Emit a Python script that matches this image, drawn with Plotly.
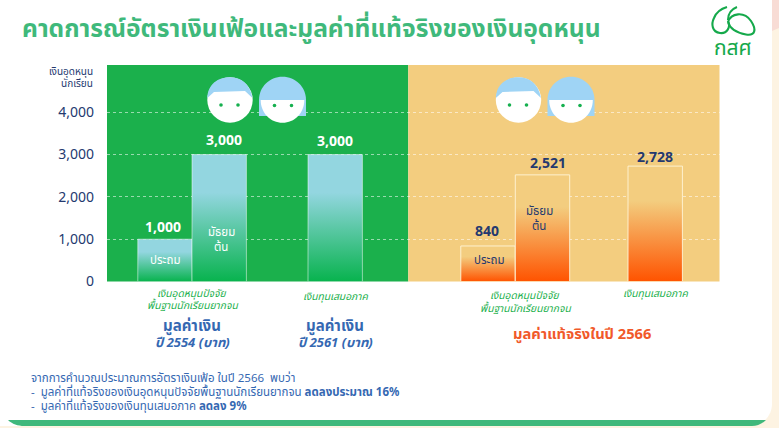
import plotly.graph_objects as go

W, H = 779, 428

# --- data ---
bar_names = ["ประถม 2554", "มัธยมต้น 2554", "เสมอภาค 2561", "ประถม 2566", "มัธยมต้น 2566", "เสมอภาค 2566"]
bar_values = [1000, 3000, 3000, 840, 2521, 2728]
bar_centers = [165, 219.2, 335.2, 488, 542.5, 655.2]
y_ticks = [0, 1000, 2000, 3000, 4000]
y_tick_labels = ["0", "1,000", "2,000", "3,000", "4,000"]

# --- style ---
FONT = "Noto Sans, Noto Sans Thai, Loma, Garuda, sans-serif"
NAVY = "#24396f"
BLUE = "#3568b2"
GREEN_TXT = "#1bb04c"
TITLE_GREEN = "#3fb97b"
PANEL_G = "#1bb04c"
PANEL_O = "#f3cd7f"
BAR_W = 54.4
value_colors = ["white", "white", "white", NAVY, NAVY, NAVY]
label_dx = [-2.3, 4.8, 0, -1.3, 5.5, 0]
label_dy = [12.5, 15.5, 14.5, 15, 12, 10]
outline_colors = ["rgba(255,255,255,0.5)"] * 3 + ["rgba(255,245,215,0.9)"] * 3


def px(x):
    return x / W


def py(y):
    return 1 - y / H


def path(points, close=True):
    s = "M" + " L".join(f"{px(a):.5f},{py(b):.5f}" for a, b in points)
    return s + (" Z" if close else "")


def curve(start, *segs):
    s = f"M{px(start[0]):.5f},{py(start[1]):.5f}"
    for c in segs:
        s += " C" + " ".join(f"{px(a):.5f},{py(b):.5f}" for a, b in c)
    return s


def rect(x0, y0, x1, y1, color):
    return dict(type="rect", xref="paper", yref="paper", x0=px(x0), x1=px(x1),
                y0=py(y1), y1=py(y0), fillcolor=color, line_width=0, layer="below")


def pshape(d, fill, layer="above", line=None, lw=0):
    out = dict(type="path", xref="paper", yref="paper", path=d, layer=layer,
               fillcolor=fill, line=dict(width=lw, color=line or "rgba(0,0,0,0)"))
    return out


def circle(cx, cy, r, fill, layer="above"):
    return dict(type="circle", xref="paper", yref="paper", x0=px(cx - r), x1=px(cx + r),
                y0=py(cy + r), y1=py(cy - r), fillcolor=fill, line_width=0, layer=layer)


def rounded(x0, y0, x1, y1, r):
    k = 0.45 * r
    return (curve((x0 + r, y0), ((x1 - r, y0), (x1 - r, y0), (x1 - r, y0)),
                  ((x1 - k, y0), (x1, y0 + k), (x1, y0 + r)),
                  ((x1, y1 - r), (x1, y1 - r), (x1, y1 - r)),
                  ((x1, y1 - k), (x1 - k, y1), (x1 - r, y1)),
                  ((x0 + r, y1), (x0 + r, y1), (x0 + r, y1)),
                  ((x0 + k, y1), (x0, y1 - k), (x0, y1 - r)),
                  ((x0, y0 + r), (x0, y0 + r), (x0, y0 + r)),
                  ((x0, y0 + k), (x0 + k, y0), (x0 + r, y0))) + " Z")


def faces(dx):
    K = 22.7
    c1 = (230 + dx, 100)
    c2 = (282.5 + dx, 100.3)
    hair_color = "#9fd4f5"
    out = [circle(c1[0], c1[1], K, "white")]
    out.append(pshape(
        curve((c1[0] - 22.7, 98), ((c1[0] - 22, 84), (c1[0] - 12, 77.3), (c1[0], 77.3)),
              ((c1[0] + 11, 77.3), (c1[0] + 20, 84), (c1[0] + 22.5, 98))) +
        f" L{px(c1[0] + 15):.5f},{py(91):.5f} L{px(c1[0] - 16):.5f},{py(92):.5f} Z", hair_color))
    R = 23.5
    out.append(pshape(
        curve((c2[0] - R, 116), ((c2[0] - R, 116), (c2[0] - R, 100), (c2[0] - R, 100)),
              ((c2[0] - R, 87), (c2[0] - 13, 76.8), (c2[0], 76.8)),
              ((c2[0] + 13, 76.8), (c2[0] + R, 87), (c2[0] + R, 100)),
              ((c2[0] + R, 116), (c2[0] + R, 116), (c2[0] + R, 116))) + " Z", hair_color))
    r = 21.8
    out.append(pshape(
        curve((c2[0] - r, 100), ((c2[0] - r, 113), (c2[0] - 12, 122.8), (c2[0], 122.8)),
              ((c2[0] + 12, 122.8), (c2[0] + r, 113), (c2[0] + r, 100))) + " Z", "white"))
    for ex, ey in [(221 + dx, 105), (238 + dx, 105), (274.5 + dx, 105.5), (291.5 + dx, 105.5)]:
        out.append(circle(ex, ey, 1.8, "#16b04f"))
    return out


shapes = [
    rect(0, 0, W, H, "#fdf3e2"),
    pshape(path([(755, 0), (W, 0), (W, 28), (772, 31)]), "#f8dcd5", "below"),
    pshape(path([(0, 0), (16, 0), (0, 22)]), "#f8dcd5", "below"),
    pshape(rounded(-22, -22, 772, 426, 22), "white", "below"),
    pshape(curve((8, 420), ((8, 420), (760, 420), (766, 420)),
                 ((762, 424), (757, 426), (752, 426)),
                 ((752, 426), (24, 426), (24, 426)),
                 ((18, 426), (12, 424), (8, 420))) + " Z", "#40b87b", "below"),
    rect(107, 65, 408.3, 281.5, PANEL_G),
    rect(408.3, 65, 719.5, 281.5, PANEL_O),
]
shapes += faces(0) + faces(288.5)

LG = "#15a94b"
logo = [
    curve((727, 7), ((720, 9), (716, 13), (714, 18)), ((711, 24), (712, 32), (720, 33)),
          ((727, 34), (731, 27), (728, 21))),
    curve((728, 22), ((731, 13), (744, 11), (751, 21)), ((757, 30), (755, 36), (746, 34.5)),
          ((738, 33), (730, 29), (728, 22))),
    curve((728, 20), ((728, 13), (732, 9), (737, 7))),
]
for d in logo:
    shapes.append(dict(type="path", xref="paper", yref="paper", path=d, layer="above",
                       line=dict(color=LG, width=2.1), fillcolor="rgba(0,0,0,0)"))


def note(x, y, text, size, color, anchor="center", bold=False, italic=False):
    t = f"<b>{text}</b>" if bold else text
    t = f"<i>{t}</i>" if italic else t
    return dict(x=px(x), y=py(y), xref="paper", yref="paper", text=t, showarrow=False,
                xanchor=anchor, yanchor="middle", align=anchor if anchor != "center" else "center",
                font=dict(family=FONT, size=size, color=color))


annotations = [
    note(20, 27.5, "คาดการณ์อัตราเงินเฟ้อและมูลค่าที่แท้จริงของเงินอุดหนุน", 24.6, TITLE_GREEN, "left", True),
    note(733, 47, "กสศ", 21, LG),
    note(95, 71, "เงินอุดหนุน", 10, NAVY, "right"),
    note(95, 83, "นักเรียน", 10, NAVY, "right"),
    note(165, 259, "ประถม", 11.5, "white"),
    note(221, 231, "มัธยม", 11.5, "white"),
    note(221, 246, "ต้น", 11.5, "white"),
    note(489, 259, "ประถม", 11.5, NAVY),
    note(539, 210, "มัธยม", 11.5, NAVY),
    note(539, 225, "ต้น", 11.5, NAVY),
    note(192, 292.5, "เงินอุดหนุนปัจจัย", 10.3, GREEN_TXT, italic=True),
    note(192, 305, "พื้นฐานนักเรียนยากจน", 10.3, GREEN_TXT, italic=True),
    note(335, 296, "เงินทุนเสมอภาค", 10.3, GREEN_TXT, italic=True),
    note(525, 295, "เงินอุดหนุนปัจจัย", 10.3, GREEN_TXT, italic=True),
    note(525, 307.5, "พื้นฐานนักเรียนยากจน", 10.3, GREEN_TXT, italic=True),
    note(655, 293, "เงินทุนเสมอภาค", 10.3, GREEN_TXT, italic=True),
    note(192, 325, "มูลค่าเงิน", 15, BLUE, bold=True),
    note(192, 342, "ปี 2554 (บาท)", 13, BLUE, bold=True, italic=True),
    note(335, 325, "มูลค่าเงิน", 15, BLUE, bold=True),
    note(335, 342, "ปี 2561 (บาท)", 13, BLUE, bold=True, italic=True),
    note(582, 333, "มูลค่าแท้จริงในปี 2566", 14.7, "#f1592a", bold=True),
    note(28.5, 377, "จากการคำนวณประมาณการอัตราเงินเฟ้อ ในปี 2566  พบว่า", 11.5, BLUE, "left"),
    note(28.5, 391, "-  มูลค่าที่แท้จริงของเงินอุดหนุนปัจจัยพื้นฐานนักเรียนยากจน <b>ลดลงประมาณ 16%</b>", 11.5, BLUE, "left"),
    note(28.5, 405, "-  มูลค่าที่แท้จริงของเงินทุนเสมอภาค <b>ลดลง 9%</b>", 11.5, BLUE, "left"),
]

for xc, v, c, dx, dy in zip(bar_centers, bar_values, value_colors, label_dx, label_dy):
    annotations.append(dict(x=xc, y=v, xref="x", yref="y", text=f"<b>{v:,}</b>", showarrow=False,
                            xshift=dx, yshift=dy, xanchor="center", yanchor="middle",
                            font=dict(family=FONT, size=14, color=c)))

fig = go.Figure(go.Bar(
    x=bar_centers,
    y=bar_values,
    width=BAR_W,
    hovertext=bar_names,
    marker=dict(color=["#52c498"] * 3 + ["#f99a4c"] * 3,
                line=dict(color=outline_colors, width=1)),
))

fig.update_layout(
    width=W, height=H, autosize=False,
    margin=dict(l=0, r=0, t=0, b=0, pad=0, autoexpand=False),
    paper_bgcolor="white", plot_bgcolor="rgba(0,0,0,0)",
    showlegend=False, hovermode=False,
    shapes=shapes, annotations=annotations,
    xaxis=dict(domain=[px(107), px(719.5)], range=[107, 719.5], visible=False, fixedrange=True,
               automargin=False),
    yaxis=dict(domain=[py(281.5), py(65)], range=[0, 5118], tickvals=y_ticks, ticktext=y_tick_labels,
               tickfont=dict(family=FONT, size=14, color=NAVY), ticks="", ticklabelstandoff=12,
               showline=False, zeroline=False, fixedrange=True, automargin=False,
               showgrid=True, gridcolor="rgba(255,255,255,0.55)", griddash="3px,3px", gridwidth=1),
)

post = """
document.body.style.margin='0';
document.documentElement.style.overflow='hidden';
var gd=document.getElementById('{plot_id}');
var svg=gd.querySelector('svg.main-svg');
var ns='http://www.w3.org/2000/svg';
var defs=svg.querySelector('defs');
function grad(id,c0,c1,f){
  var g=document.createElementNS(ns,'linearGradient');
  g.setAttribute('id',id);g.setAttribute('x1','0');g.setAttribute('y1','0');g.setAttribute('x2','0');g.setAttribute('y2','1');
  [[0,c0],[f,c0],[1,c1]].forEach(function(s){
    var e=document.createElementNS(ns,'stop');e.setAttribute('offset',s[0]);e.setAttribute('stop-color',s[1]);g.appendChild(e);});
  defs.appendChild(g);
}
grad('gradG','#93d6e0','#08b34e',0.3);
grad('gradO','#f3cd7f','#ff5300',0.3);
gd.querySelectorAll('.bars .point path').forEach(function(p,i){
  p.style.fill='url(#'+(i<3?'gradG':'gradO')+')';p.style.fillOpacity=1;
});
"""
fig.write_html("out.html", post_script=post, default_width="779px", default_height="428px",
               config=dict(displayModeBar=False, responsive=False))
